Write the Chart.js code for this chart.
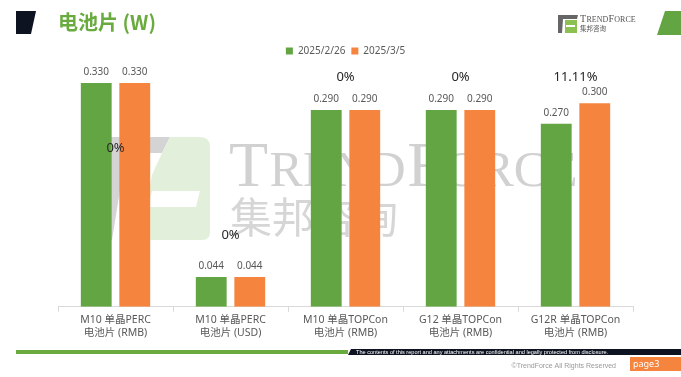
<!DOCTYPE html>
<html>
<head>
<meta charset="utf-8">
<script src="https://cdn.jsdelivr.net/npm/chart.js@4/dist/chart.umd.min.js"></script>
<style>
  html, body { margin: 0; padding: 0; background: #fff; }
  #wrap { width: 681px; height: 377px; position: relative; }
</style>
</head>
<body>
<div id="wrap"><canvas id="c"></canvas></div>
<script>
// cell price chart, two dates
const categories = [
    ['M10 单晶PERC', '电池片 (RMB)'],
    ['M10 单晶PERC', '电池片 (USD)'],
    ['M10 单晶TOPCon', '电池片 (RMB)'],
    ['G12 单晶TOPCon', '电池片 (RMB)'],
    ['G12R 单晶TOPCon', '电池片 (RMB)']
];
const seriesNames = ['2025/2/26', '2025/3/5'];
const pricesFeb26 = [0.330, 0.044, 0.290, 0.290, 0.270];
const pricesMar5 = [0.330, 0.044, 0.290, 0.290, 0.300];
const changeLabels = ['0%', '0%', '0%', '0%', '11.11%'];
const changeLabelAt = [0.234, 0.105, 0.339, 0.339, 0.339];

const GREEN = '#63a542';
const ORANGE = '#f5843e';
const FONT = '"Noto Sans", "Noto Sans CJK SC", sans-serif';

Chart.defaults.font.family = FONT;
Chart.defaults.color = '#595959';

// page decoration + watermark, drawn under the chart
const backdrop = {
    id: 'backdrop',
    beforeDraw(chart) {
        const c = chart.ctx;
        c.save();
        c.fillStyle = '#fff';
        c.fillRect(0, 0, chart.width, chart.height);

        // watermark logo
        c.fillStyle = '#d4d4d4';
        c.beginPath();
        c.moveTo(102, 137); c.lineTo(170, 137); c.lineTo(162, 153);
        c.lineTo(126, 153); c.lineTo(112, 240); c.lineTo(100, 240);
        c.closePath(); c.fill();
        c.fillStyle = '#e2efda';
        c.beginPath();
        c.moveTo(170, 137); c.lineTo(200, 137);
        c.quadraticCurveTo(210, 137, 210, 147);
        c.lineTo(210, 232); c.quadraticCurveTo(210, 240, 202, 240);
        c.lineTo(140, 240); c.lineTo(152, 175); c.lineTo(162, 153);
        c.closePath(); c.fill();
        c.fillStyle = '#fff';
        c.beginPath();
        c.moveTo(152, 191); c.lineTo(200, 191); c.lineTo(196, 207);
        c.lineTo(148, 207); c.closePath(); c.fill();

        c.fillStyle = '#d2d1d1';
        c.textBaseline = 'alphabetic';
        let x = 229;
        const parts = [['T', 64], ['REND', 50], ['F', 64], ['ORCE', 50]];
        for (const [t, s] of parts) {
            c.font = s + 'px "Liberation Serif", serif';
            c.fillText(t, x, 186);
            x += c.measureText(t).width + 1.5;
        }
        c.font = '42px "Noto Sans CJK SC"';
        c.fillStyle = '#d6d6d6';
        c.fillText('集邦咨询', 230, 233);

        // header
        c.fillStyle = '#0d1321';
        c.beginPath();
        c.moveTo(16, 11); c.lineTo(36, 11); c.lineTo(31, 34); c.lineTo(16, 34);
        c.closePath(); c.fill();
        c.fillStyle = '#6aab3f';
        c.font = 'bold 20px "Noto Sans CJK SC", "Noto Sans", sans-serif';
        c.textBaseline = 'middle';
        c.fillText('电池片 (W)', 58, 22);

        c.fillStyle = GREEN;
        c.beginPath();
        c.moveTo(665, 11); c.lineTo(681, 11); c.lineTo(681, 35); c.lineTo(657, 35);
        c.closePath(); c.fill();

        // small logo
        c.fillStyle = '#666';
        c.beginPath();
        c.moveTo(558, 15); c.lineTo(578, 15); c.lineTo(577, 19); c.lineTo(563, 19);
        c.lineTo(562, 33); c.lineTo(558, 33); c.closePath(); c.fill();
        c.fillStyle = '#8cc152';
        c.fillRect(565, 20, 12, 13);
        c.fillStyle = '#fff';
        c.fillRect(566, 25, 9, 2);
        c.fillStyle = '#555';
        c.textBaseline = 'alphabetic';
        x = 580;
        for (const [t, s] of [['T', 10], ['REND', 8], ['F', 10], ['ORCE', 8]]) {
            c.font = s + 'px "Liberation Serif", serif';
            c.fillText(t, x, 22);
            x += c.measureText(t).width + 0.3;
        }
        c.font = '6.5px "Noto Sans CJK SC"';
        c.fillText('集邦咨询', 580, 31);

        // footer
        c.fillStyle = '#6aab3f';
        c.fillRect(16, 350, 332, 4);
        c.fillStyle = '#0d1321';
        c.beginPath();
        c.moveTo(351, 349); c.lineTo(681, 349); c.lineTo(681, 355); c.lineTo(348, 355);
        c.closePath(); c.fill();
        c.fillStyle = '#fff';
        c.font = '5.6px "Liberation Sans", sans-serif';
        c.textBaseline = 'middle';
        c.fillText('The contents of this report and any attachments are confidential and legally protected from disclosure.', 356, 352);
        c.fillStyle = '#999';
        c.font = '7px "Liberation Sans", sans-serif';
        c.textAlign = 'right';
        c.fillText('©TrendForce All Rights Reserved', 616, 366);
        c.fillStyle = ORANGE;
        c.fillRect(630, 357, 51, 14);
        c.fillStyle = '#fff';
        c.textAlign = 'left';
        c.font = '9px "Noto Sans", sans-serif';
        c.fillText('page3', 633, 364);
        c.restore();
    }
};

// value labels above bars and change labels per category
const labels = {
    id: 'labels',
    afterDatasetsDraw(chart) {
        const c = chart.ctx;
        c.save();
        c.textAlign = 'center';
        c.textBaseline = 'middle';
        c.font = '10px ' + FONT;
        c.fillStyle = '#595959';
        chart.data.datasets.forEach((ds, i) => {
            chart.getDatasetMeta(i).data.forEach((bar, j) => {
                c.fillText(ds.data[j].toFixed(3), bar.x, bar.y - 11);
            });
        });
        const xs = chart.scales.x, ys = chart.scales.y;
        c.font = '13px ' + FONT;
        c.fillStyle = '#262626';
        changeLabels.forEach((t, j) => {
            c.fillText(t, xs.getPixelForValue(j), ys.getPixelForValue(changeLabelAt[j]));
        });
        c.restore();
    }
};

new Chart(document.getElementById('c'), {
    type: 'bar',
    data: {
        labels: categories,
        datasets: [
            { label: seriesNames[0], data: pricesFeb26, backgroundColor: GREEN },
            { label: seriesNames[1], data: pricesMar5, backgroundColor: ORANGE }
        ]
    },
    options: {
        responsive: true,
        maintainAspectRatio: false,
        animation: false,
        categoryPercentage: 0.67,
        barPercentage: 0.8,
        layout: { padding: { left: 58, right: 48, top: 40, bottom: 36 } },
        plugins: {
            legend: {
                labels: {
                    boxWidth: 7,
                    boxHeight: 7,
                    padding: 6,
                    font: { size: 10 },
                    color: '#595959'
                }
            },
            tooltip: { enabled: false }
        },
        scales: {
            x: {
                grid: { drawOnChartArea: false, color: '#d9d9d9', tickLength: 5 },
                border: { color: '#d9d9d9' },
                ticks: { font: { size: 10.5 }, color: '#595959', padding: 2, maxRotation: 0 }
            },
            y: {
                display: false,
                min: 0,
                max: 0.355
            }
        }
    },
    plugins: [backdrop, labels]
});
</script>
</body>
</html>
